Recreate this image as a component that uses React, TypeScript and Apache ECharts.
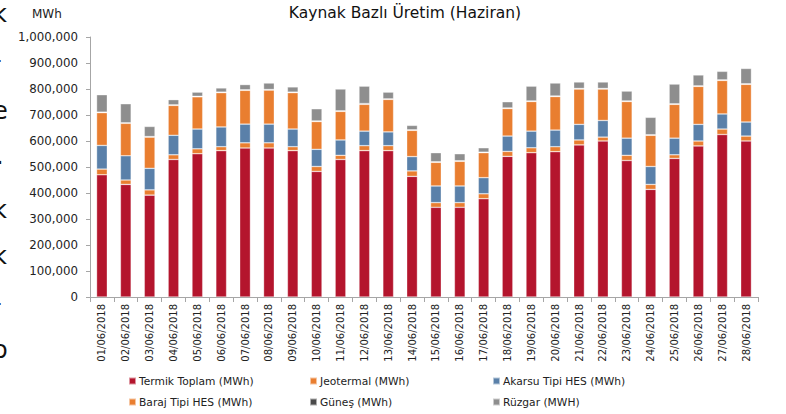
import React, { useEffect, useRef } from "react";
import * as echarts from "echarts";

const categories = [
  "01/06/2018", "02/06/2018", "03/06/2018", "04/06/2018", "05/06/2018", "06/06/2018", "07/06/2018",
  "08/06/2018", "09/06/2018", "10/06/2018", "11/06/2018", "12/06/2018", "13/06/2018", "14/06/2018",
  "15/06/2018", "16/06/2018", "17/06/2018", "18/06/2018", "19/06/2018", "20/06/2018", "21/06/2018",
  "22/06/2018", "23/06/2018", "24/06/2018", "25/06/2018", "26/06/2018", "27/06/2018", "28/06/2018",
];

const termik = [470000, 433000, 392000, 529000, 551000, 563000, 573000, 573000, 563000, 483000, 529000, 563000, 563000, 464000, 345000, 345000, 378000, 541000, 555000, 559000, 585000, 600000, 525000, 414000, 533000, 581000, 625000, 600000];
const jeotermal = [22000, 17000, 20000, 18000, 19000, 15000, 20000, 20000, 15000, 19000, 16000, 19000, 19000, 21000, 18000, 18000, 19000, 19000, 19000, 19000, 19000, 15000, 20000, 19000, 14000, 19000, 21000, 19000];
const akarsu = [91000, 93000, 83000, 75000, 76000, 76000, 72000, 72000, 68000, 66000, 59000, 56000, 53000, 55000, 64000, 64000, 62000, 59000, 64000, 64000, 60000, 64000, 66000, 69000, 64000, 64000, 58000, 54000];
const baraj = [126000, 125000, 120000, 115000, 124000, 132000, 130000, 131000, 140000, 107000, 110000, 103000, 125000, 101000, 91000, 95000, 96000, 106000, 114000, 129000, 136000, 121000, 141000, 120000, 130000, 146000, 129000, 145000];
const gunes = [2000, 2000, 2000, 2000, 2000, 2000, 2000, 2000, 2000, 2000, 2000, 3000, 2000, 2000, 2000, 2000, 2000, 2000, 2000, 2000, 2000, 2000, 2000, 2000, 2000, 2000, 2000, 2000];
const ruzgar = [67000, 73000, 39000, 20000, 16000, 16000, 20000, 25000, 20000, 47000, 84000, 67000, 26000, 17000, 35000, 27000, 17000, 24000, 57000, 50000, 25000, 25000, 38000, 67000, 76000, 42000, 33000, 59000];

const seriesNames = [
  "Termik Toplam (MWh)",
  "Jeotermal (MWh)",
  "Akarsu Tipi HES (MWh)",
  "Baraj Tipi HES (MWh)",
  "Güneş (MWh)",
  "Rüzgar (MWH)",
];
const seriesColors = ["#B4152D", "#E97E30", "#5A80A9", "#E97E30", "#4A4A4A", "#8E8E8E"];
const seriesData = [termik, jeotermal, akarsu, baraj, gunes, ruzgar];

const edgeChars = ["k", "-", "e", "·", "k", "k", "-", "o"];
const edgeY = [2, 48, 99, 151, 198, 244, 291, 338];

const FONT = "'DejaVu Sans', sans-serif";

export default function App() {
  const ref = useRef<HTMLDivElement>(null);
  useEffect(() => {
    document.body.style.margin = "0";
    if (!ref.current) return;
    const chart = echarts.init(ref.current, undefined, { renderer: "svg" });
    const legendCol = (left: number, names: string[]) => ({
      orient: "vertical",
      left,
      top: 374,
      padding: 0,
      itemWidth: 7,
      itemHeight: 7,
      itemGap: 7,
      icon: "rect",
      data: names,
      textStyle: { fontFamily: FONT, fontSize: 10.7, color: "#222", lineHeight: 14, padding: [0, 0, 0, -2] },
      selectedMode: false,
    });
    chart.setOption({
      animation: false,
      textStyle: { fontFamily: FONT },
      title: {
        text: "Kaynak Bazlı Üretim (Haziran)",
        left: 405,
        top: 5,
        padding: 0,
        textAlign: "center",
        textStyle: { fontFamily: FONT, fontSize: 15.5, fontWeight: "normal", color: "#111" },
      },
      grid: { left: 90, right: 28, top: 37, bottom: 117, containLabel: false },
      legend: [
        legendCol(128, [seriesNames[0], seriesNames[3]]),
        legendCol(309, [seriesNames[1], seriesNames[4]]),
        legendCol(492, [seriesNames[2], seriesNames[5]]),
      ],
      xAxis: {
        type: "category",
        data: categories,
        axisLine: { lineStyle: { color: "#A6A6A6", width: 1 } },
        axisTick: { show: true, length: 5, lineStyle: { color: "#A6A6A6" }, alignWithLabel: false },
        axisLabel: { rotate: 90, fontSize: 10, color: "#222", margin: 7, fontFamily: FONT, interval: 0 },
      },
      yAxis: {
        type: "value",
        min: 0,
        max: 1000000,
        interval: 100000,
        splitLine: { show: false },
        axisLine: { show: true, lineStyle: { color: "#A6A6A6", width: 1 } },
        axisTick: { show: true, length: 4, lineStyle: { color: "#A6A6A6" } },
        axisLabel: {
          fontSize: 11.8,
          color: "#222",
          margin: 12,
          fontFamily: FONT,
          formatter: (v: number) => v.toLocaleString("en-US"),
        },
      },
      graphic: [
        {
          type: "text",
          left: 32,
          top: 8,
          style: { text: "MWh", fontSize: 12, fill: "#222", fontFamily: FONT },
        },
        ...edgeChars.map((c, i) => ({
          type: "text",
          left: c === "·" ? -4 : -7,
          top: edgeY[i],
          style: { text: c, fontSize: 24, fill: "#111", fontFamily: FONT },
        })),
      ],
      series: seriesNames.map((name, i) => ({
        name,
        type: "bar",
        stack: "total",
        barWidth: "45%",
        data: seriesData[i],
        itemStyle: {
          color: seriesColors[i],
          borderColor: "rgba(255,255,255,0.55)",
          borderWidth: 0.6,
        },
      })),
    });
    return () => chart.dispose();
  }, []);
  return <div ref={ref} style={{ width: 786, height: 414 }} />;
}
